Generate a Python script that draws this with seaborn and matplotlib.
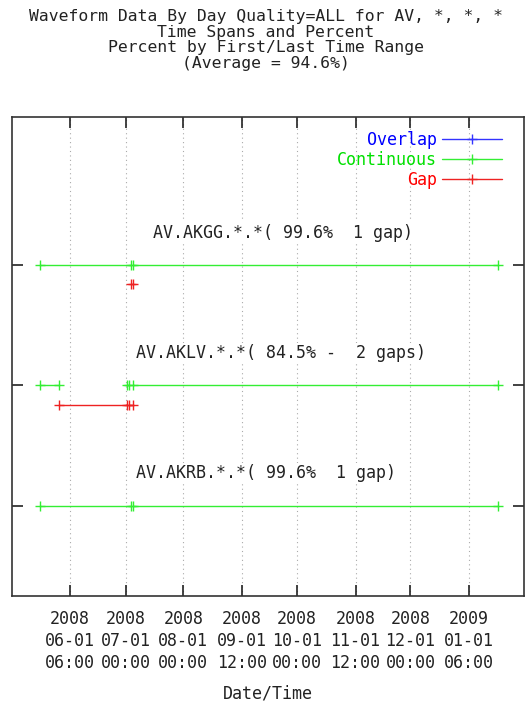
import matplotlib
matplotlib.use("Agg")
import matplotlib.pyplot as plt
from matplotlib.lines import Line2D
import seaborn as sns
import pandas as pd

# ---------------- data ----------------
title_lines = [
    "Waveform Data By Day Quality=ALL for AV, *, *, *",
    "Time Spans and Percent",
    "Percent by First/Last Time Range",
    "(Average = 94.6%)",
]
station_labels = [
    "AV.AKGG.*.*( 99.6%  1 gap)",
    "AV.AKLV.*.*( 84.5% -  2 gaps)",
    "AV.AKRB.*.*( 99.6%  1 gap)",
]
station_rows = [3, 2, 1]

continuous_akgg = [("2008-05-16", "2008-07-04"), ("2008-07-05", "2009-01-17")]
gap_akgg = [("2008-07-04", "2008-07-05")]
continuous_aklv = [("2008-05-16", "2008-05-26"), ("2008-07-02", "2008-07-03"),
                   ("2008-07-05", "2009-01-17")]
gap_aklv = [("2008-05-26", "2008-07-02"), ("2008-07-03", "2008-07-05")]
continuous_akrb = [("2008-05-16", "2008-07-04"), ("2008-07-05", "2009-01-17")]
gap_akrb = []

tick_times = ["2008-06-01 06:00", "2008-07-01 00:00", "2008-08-01 00:00",
              "2008-09-01 12:00", "2008-10-01 00:00", "2008-11-01 12:00",
              "2008-12-01 00:00", "2009-01-01 06:00"]
x_range = ("2008-05-01", "2009-01-31")
legend_names = ["Overlap", "Continuous", "Gap"]

# ---------------- styling ----------------
colors = {"Overlap": "#0000ff", "Continuous": "#00e000", "Gap": "#ff0000"}
line_colors = {"Overlap": "#3333ff", "Continuous": "#33ee33", "Gap": "#ee2222"}
gap_offset = 0.16
label_offset = 0.27
label_x = [0.275, 0.242, 0.242]
FS = 12

sns.set_theme(style="white")
plt.rcParams["font.family"] = ["DejaVu Sans Mono", "DejaVu Sans"]

rows = []
per_station = [(continuous_akgg, gap_akgg), (continuous_aklv, gap_aklv),
               (continuous_akrb, gap_akrb)]
for i, (conts, gaps) in enumerate(per_station):
    yv = station_rows[i]
    for j, (s, e) in enumerate(conts):
        for t in (s, e):
            rows.append({"time": t, "y": yv, "kind": "Continuous", "unit": f"{i}c{j}"})
    for j, (s, e) in enumerate(gaps):
        for t in (s, e):
            rows.append({"time": t, "y": yv - gap_offset, "kind": "Gap", "unit": f"{i}g{j}"})
df = pd.DataFrame(rows)
df["time"] = pd.to_datetime(df["time"])

fig = plt.figure(figsize=(5.32, 7.08), dpi=100)
ax = fig.add_axes([12 / 532, 1 - 596 / 708, 512 / 532, 479 / 708])

sns.lineplot(data=df, x="time", y="y", hue="kind", units="unit", estimator=None,
             sort=False, palette={k: line_colors[k] for k in ("Continuous", "Gap")},
             marker="+", markersize=7, linewidth=1.0, legend=False, ax=ax)
for ln in ax.lines:
    ln.set_markeredgecolor(ln.get_color())
    ln.set_markeredgewidth(1.0)

ticks = pd.to_datetime(tick_times)
ax.set_xticks(ticks)
ax.set_xticklabels([t.strftime("%Y\n%m-%d\n%H:%M") for t in ticks], fontsize=FS)
for lbl in ax.get_xticklabels():
    lbl.set_linespacing(1.3)
ax.set_xlim(pd.to_datetime(x_range[0]), pd.to_datetime(x_range[1]))
ax.set_ylim(0.25, 4.23)
ax.set_yticks(station_rows)
ax.set_yticklabels([])
ax.set_ylabel("")
ax.set_xlabel("Date/Time", fontsize=FS, labelpad=9, color="#222222")

ax.tick_params(axis="x", direction="in", length=8, width=1.2, top=True, bottom=True,
               pad=10, colors="#222222")
ax.tick_params(axis="y", direction="in", length=8, width=1.2, left=True, right=True,
               labelleft=False, colors="#222222")
ax.grid(axis="x", linestyle=(0, (1, 3)), color="#aaaaaa", linewidth=0.8)
ax.set_axisbelow(True)
for sp in ax.spines.values():
    sp.set_color("#333333")
    sp.set_linewidth(1.2)

for i, lab in enumerate(station_labels):
    ax.text(label_x[i], station_rows[i] + label_offset, lab, fontsize=FS,
            transform=ax.get_yaxis_transform(), ha="left", va="center",
            color="#222222", bbox=dict(facecolor="white", edgecolor="none", pad=1))

handles = [Line2D([], [], color=line_colors[n], marker="+", markersize=7, lw=1.0,
                  markeredgecolor=line_colors[n]) for n in legend_names]
leg = ax.legend(handles, legend_names, loc="upper right",
                bbox_to_anchor=((502 - 12) / 512, (596 - 131) / 479),
                frameon=False, markerfirst=False, fontsize=FS, handlelength=3.6,
                handletextpad=0.3, labelspacing=0.12, borderpad=0, borderaxespad=0,
                labelcolor=[colors[n] for n in legend_names])

fig.text(266 / 532, 1 - 40 / 708, "\n".join(title_lines), ha="center", va="center",
         ma="center", fontsize=11.8, linespacing=1.03, color="#222222")

fig.savefig("out.png", dpi=100)
